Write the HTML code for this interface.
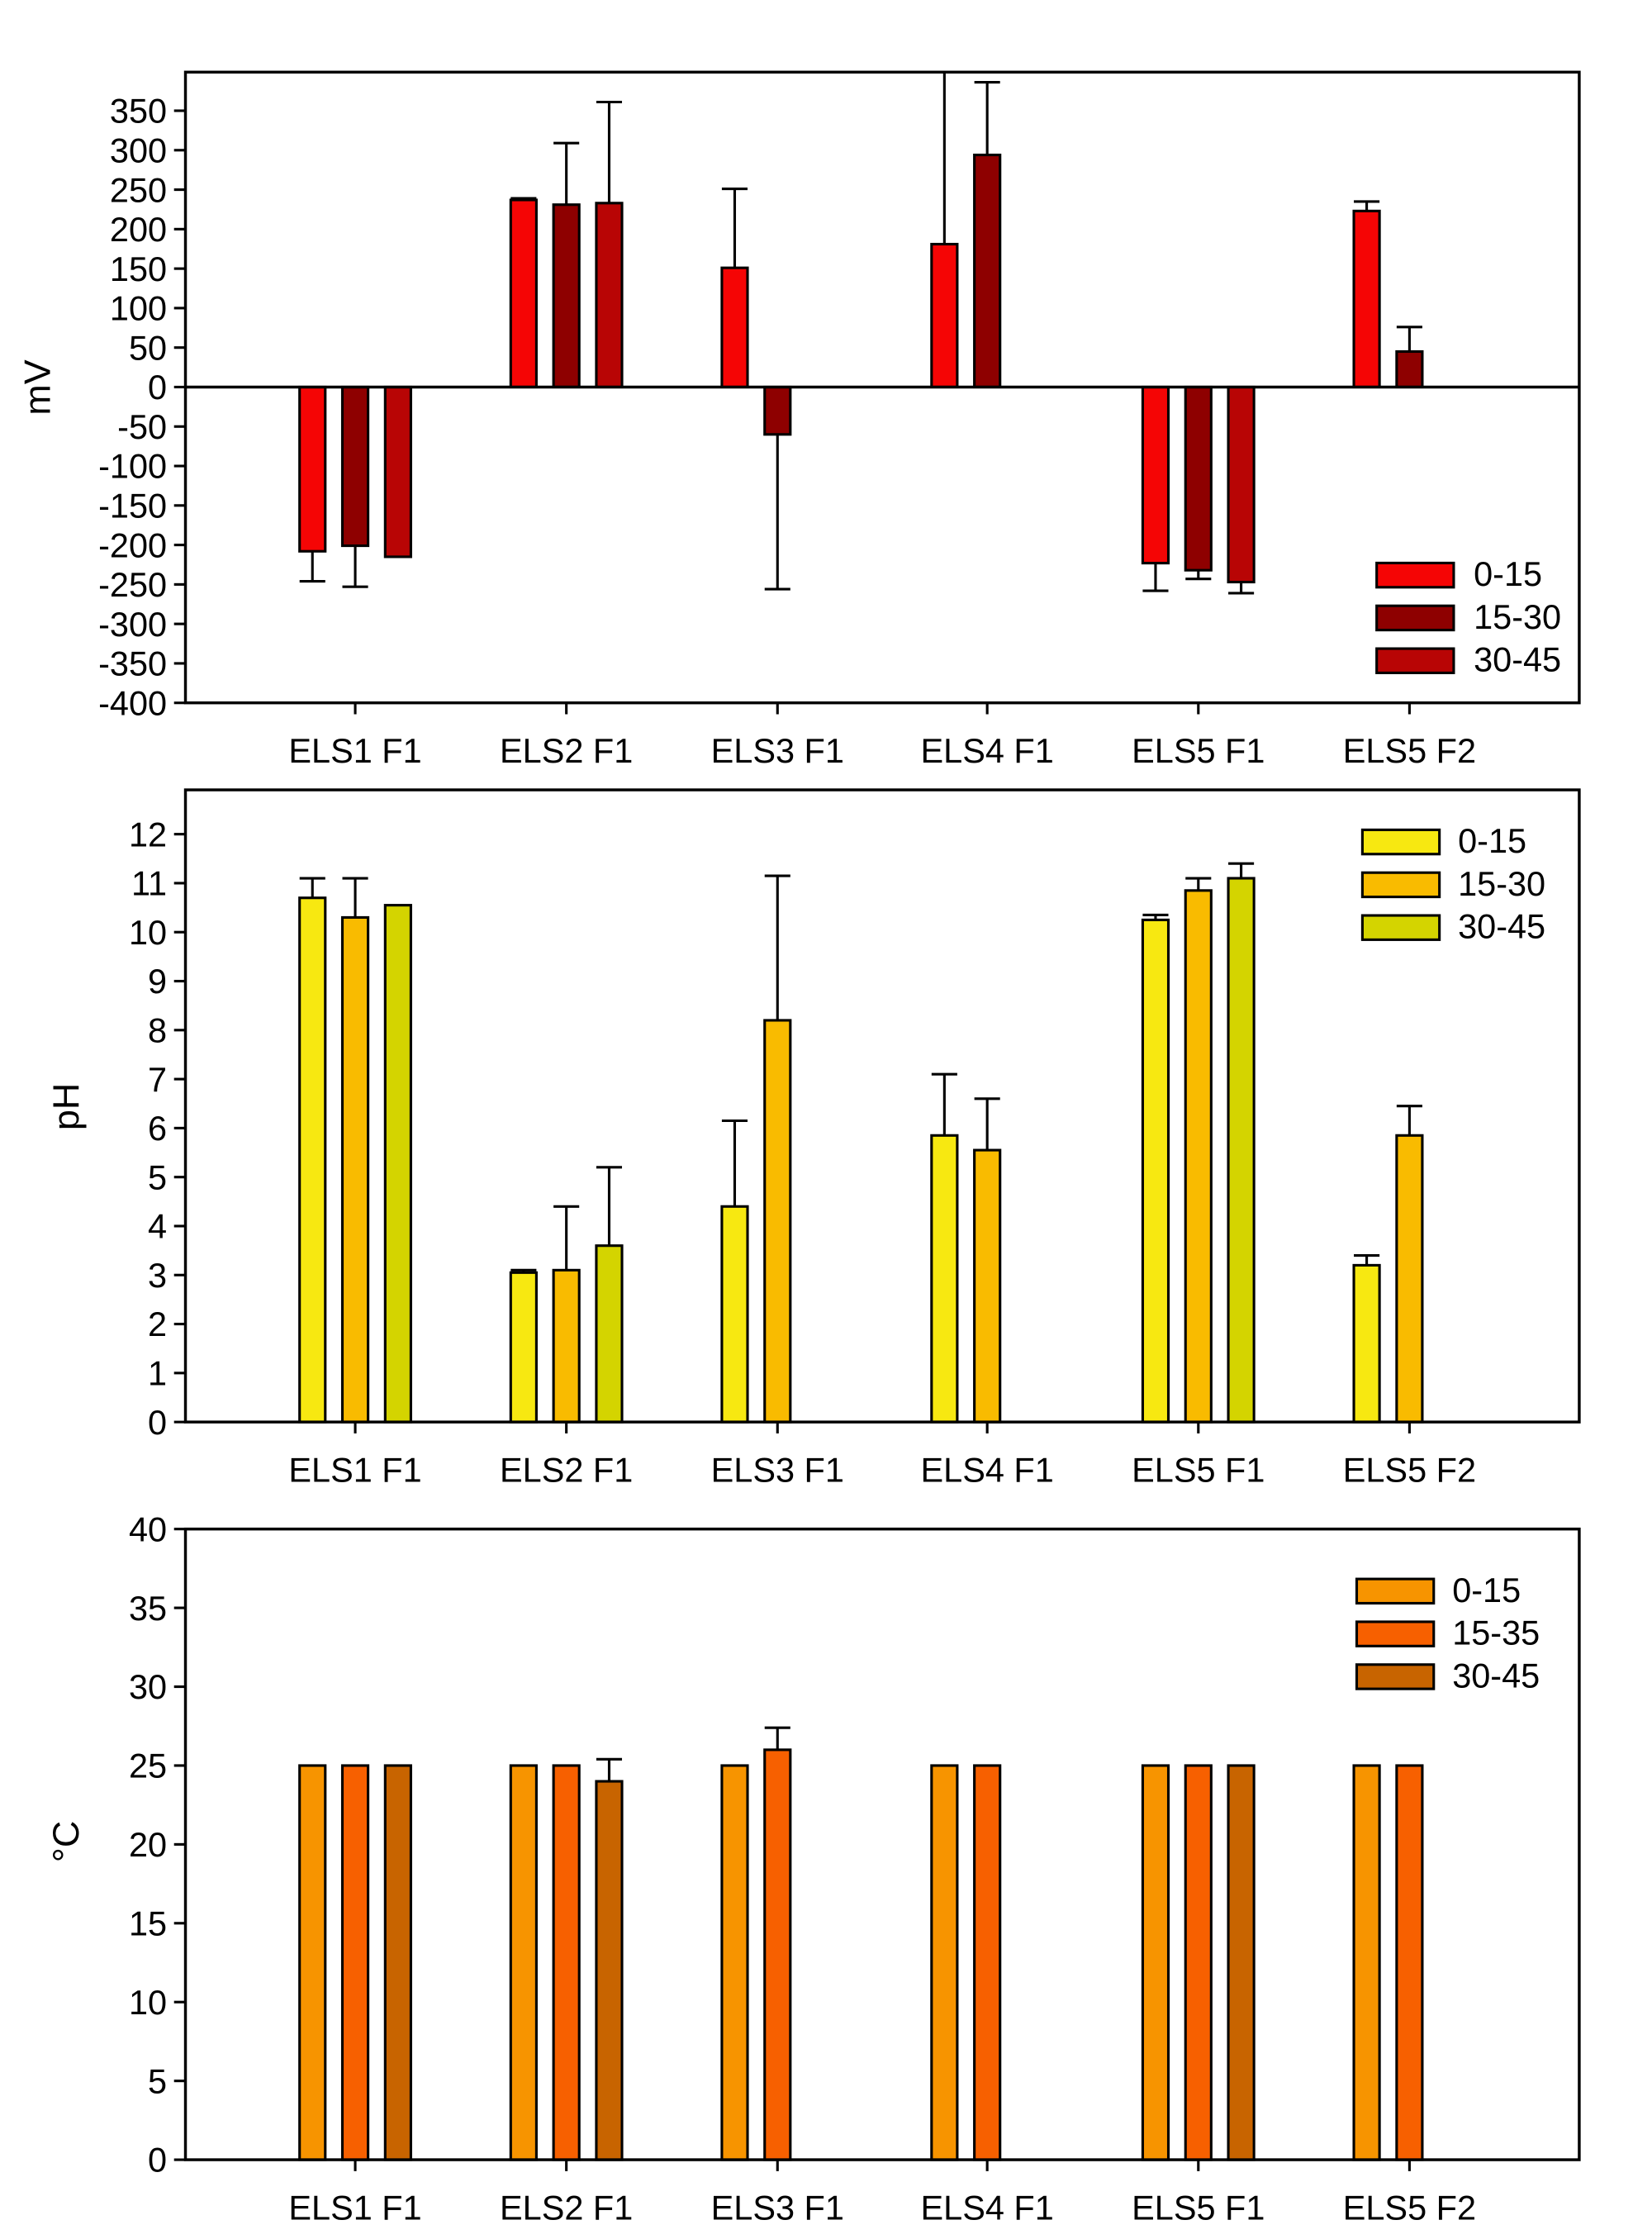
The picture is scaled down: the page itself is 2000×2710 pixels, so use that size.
<!DOCTYPE html>
<html><head><meta charset="utf-8"><style>
html,body{margin:0;padding:0;background:#fff}
svg{display:block}
text{font-family:"Liberation Sans",Arial,sans-serif;fill:#000}
</style></head><body>
<svg id="s" width="2000" height="2710" viewBox="0 0 1158 1568" xmlns="http://www.w3.org/2000/svg">
<g id="g"></g>
<g font-size="24" text-anchor="end">
<text x="117" y="85.5">350</text><text x="117" y="113.2">300</text><text x="117" y="140.9">250</text><text x="117" y="168.5">200</text><text x="117" y="196.2">150</text><text x="117" y="223.9">100</text><text x="117" y="251.5">50</text><text x="117" y="279.2">0</text><text x="117" y="306.9">-50</text><text x="117" y="334.5">-100</text><text x="117" y="362.2">-150</text><text x="117" y="389.9">-200</text><text x="117" y="417.5">-250</text><text x="117" y="445.2">-300</text><text x="117" y="472.9">-350</text><text x="117" y="500.5">-400</text>
<text x="117" y="1004.5">0</text><text x="117" y="970.2">1</text><text x="117" y="935.8">2</text><text x="117" y="901.5">3</text><text x="117" y="867.2">4</text><text x="117" y="832.8">5</text><text x="117" y="798.5">6</text><text x="117" y="764.2">7</text><text x="117" y="729.9">8</text><text x="117" y="695.5">9</text><text x="117" y="661.2">10</text><text x="117" y="626.9">11</text><text x="117" y="592.5">12</text>
<text x="117" y="1521.5">0</text><text x="117" y="1466.3">5</text><text x="117" y="1411">10</text><text x="117" y="1355.8">15</text><text x="117" y="1300.5">20</text><text x="117" y="1245.3">25</text><text x="117" y="1190">30</text><text x="117" y="1134.8">35</text><text x="117" y="1079.5">40</text>
</g>
<g font-size="24" text-anchor="middle">
<text x="249" y="534">ELS1 F1</text><text x="397" y="534">ELS2 F1</text><text x="545" y="534">ELS3 F1</text><text x="692" y="534">ELS4 F1</text><text x="840" y="534">ELS5 F1</text><text x="988" y="534">ELS5 F2</text>
<text x="249" y="1038">ELS1 F1</text><text x="397" y="1038">ELS2 F1</text><text x="545" y="1038">ELS3 F1</text><text x="692" y="1038">ELS4 F1</text><text x="840" y="1038">ELS5 F1</text><text x="988" y="1038">ELS5 F2</text>
<text x="249" y="1555">ELS1 F1</text><text x="397" y="1555">ELS2 F1</text><text x="545" y="1555">ELS3 F1</text><text x="692" y="1555">ELS4 F1</text><text x="840" y="1555">ELS5 F1</text><text x="988" y="1555">ELS5 F2</text>
</g>
<g font-size="24">
<text x="1033" y="410">0-15</text><text x="1033" y="440">15-30</text><text x="1033" y="470">30-45</text>
<text x="1022" y="597">0-15</text><text x="1022" y="627">15-30</text><text x="1022" y="657">30-45</text>
<text x="1018" y="1122">0-15</text><text x="1018" y="1152">15-35</text><text x="1018" y="1182">30-45</text>
</g>
<g font-size="26" text-anchor="middle">
<text transform="translate(35,271) rotate(-90)">mV</text>
<text transform="translate(55,775) rotate(-90)">pH</text>
<text transform="translate(55,1290) rotate(-90)">°C</text>
</g>
</svg>
<script>
var g=document.getElementById('g'),NS='http://www.w3.org/2000/svg';
function el(t,a){var e=document.createElementNS(NS,t);for(var k in a)e.setAttribute(k,a[k]);g.appendChild(e);return e;}
function line(x1,y1,x2,y2,w){el('line',{x1:x1,y1:y1,x2:x2,y2:y2,stroke:'#000','stroke-width':w||1.8});}
var cats=[249,397,545,692,840,988],off=[-30,0,30],bw=18;
function chart(top,bot,ticks,yf,zero,cols,data,leg){
  for(var c=0;c<6;c++){for(var j=0;j<3;j++){var d=data[c][j];if(!d)continue;var cx=cats[c]+off[j];
    var y0=yf(zero),y1=yf(d[0]);
    if(d[1]!=null){var ye=Math.max(top,yf(d[1]));line(cx,y1,cx,ye);if(yf(d[1])>=top)line(cx-bw/2,ye,cx+bw/2,ye);}
    el('rect',{x:cx-bw/2,y:Math.min(y0,y1),width:bw,height:Math.abs(y1-y0),fill:cols[j],stroke:'#000','stroke-width':1.8});}}
  el('rect',{x:130,y:top,width:977,height:bot-top,fill:'none',stroke:'#000','stroke-width':2});
  ticks.forEach(function(v){var y=yf(v);line(122,y,130,y);});
  cats.forEach(function(x){line(x,bot,x,bot+8);});
  for(var j=0;j<3;j++)el('rect',{x:leg[0],y:leg[1]+30*j,width:54,height:17,fill:cols[j],stroke:'#000','stroke-width':1.8});
}
var t1=[];for(var v=350;v>=-400;v-=50)t1.push(v);
var f1=function(v){return 270.7-v*0.5533;};
chart(50,492,t1,f1,0,['#f50505','#8e0000','#b80505'],[
 [[-208,-246],[-201,-253],[-215,null]],
 [[237,239],[231,309],[233,361]],
 [[151,251],[-60,-256],null],
 [[181,500],[294,386],null],
 [[-223,-258],[-232,-243],[-247,-261]],
 [[223,235],[45,76],null]],[965,394]);
line(130,270.7,1107,270.7,2);
var t2=[];for(var v=0;v<=12;v++)t2.push(v);
chart(553,996,t2,function(v){return 996-v*34.33;},0,['#f7e811','#f9bb00','#d4d400'],[
 [[10.7,11.1],[10.3,11.1],[10.55,null]],
 [[3.05,3.1],[3.1,4.4],[3.6,5.2]],
 [[4.4,6.15],[8.2,11.15],null],
 [[5.85,7.1],[5.55,6.6],null],
 [[10.25,10.35],[10.85,11.1],[11.1,11.4]],
 [[3.2,3.4],[5.85,6.45],null]],[955,581]);
var t3=[];for(var v=0;v<=40;v+=5)t3.push(v);
chart(1071,1513,t3,function(v){return 1513-v*11.05;},0,['#f79400','#f76000','#c86400'],[
 [[25,null],[25,null],[25,null]],
 [[25,null],[25,null],[24,25.4]],
 [[25,null],[26,27.4],null],
 [[25,null],[25,null],null],
 [[25,null],[25,null],[25,null]],
 [[25,null],[25,null],null]],[951,1106]);
</script>
</body></html>
